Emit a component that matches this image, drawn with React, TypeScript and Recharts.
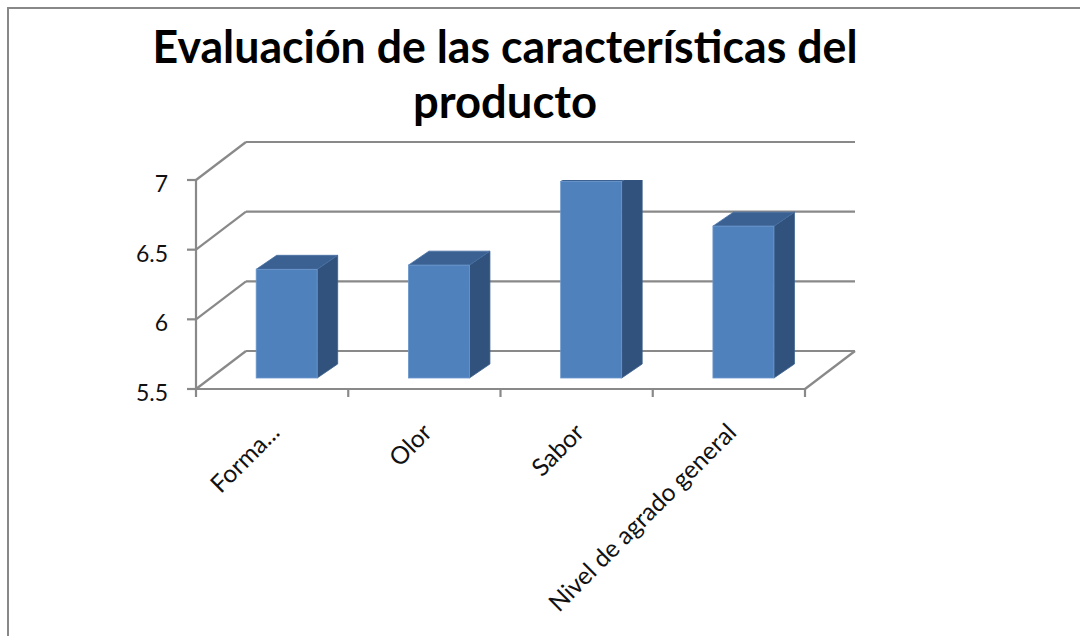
import { BarChart, Bar, XAxis, YAxis, CartesianGrid } from "recharts";

// ─── Data ──────────────────────────────────────────────────────────────────

const categories = ["Forma...", "Olor", "Sabor", "Nivel de agrado general"];
const scores = [6.28, 6.31, 6.91, 6.59];
const valueTicks = [5.5, 6, 6.5, 7];
const titleLines = ["Evaluación de las características del", "producto"];

const data = categories.map((name, i) => ({ name, score: scores[i] }));

// ─── Layout ────────────────────────────────────────────────────────────────

const W = 1080;
const H = 636;
const Y_AXIS_W = 60;
const X_AXIS_H = 30;
const MARGIN = { top: 180, right: 275, bottom: 247 - X_AXIS_H, left: 196 - Y_AXIS_W };
const PLOT_BOTTOM = H - 247;

// oblique projection of the walls / floor
const WALL_DX = 50;
const WALL_DY = 38;
// column block: front face pushed into the floor, then its own depth
const COL_DX = 14.5;
const COL_DY = 11;
const COL_DEPTH_X = 20.5;
const COL_DEPTH_Y = 14;

const GRID = "#898989";
const FONT = "Lato, 'Open Sans', sans-serif";

// ─── Grid: back wall + side wall + floor edges ─────────────────────────────

function WallLine(props: any) {
  const { x1, x2, y1 } = props;
  const isFloor = y1 >= PLOT_BOTTOM - 0.5;
  const s = { stroke: GRID, strokeWidth: 2.2, fill: "none" };
  return (
    <g>
      <line x1={x1} y1={y1} x2={x1 + WALL_DX} y2={y1 - WALL_DY} {...s} />
      <line x1={x1 + WALL_DX} y1={y1 - WALL_DY} x2={x2 + WALL_DX} y2={y1 - WALL_DY} {...s} />
      {isFloor && <line x1={x2} y1={y1} x2={x2 + WALL_DX} y2={y1 - WALL_DY} {...s} />}
    </g>
  );
}

// ─── 3D column ─────────────────────────────────────────────────────────────

function Column3D(props: any) {
  const { x, y, width: w, height: h } = props;
  if (h == null || w == null) return null;
  const fx = x + COL_DX;
  const fy = y - COL_DY;
  const top = [
    [fx, fy],
    [fx + COL_DEPTH_X, fy - COL_DEPTH_Y],
    [fx + w + COL_DEPTH_X, fy - COL_DEPTH_Y],
    [fx + w, fy],
  ];
  const side = [
    [fx + w, fy],
    [fx + w + COL_DEPTH_X, fy - COL_DEPTH_Y],
    [fx + w + COL_DEPTH_X, fy - COL_DEPTH_Y + h],
    [fx + w, fy + h],
  ];
  const pts = (p: number[][]) => p.map((q) => q.join(",")).join(" ");
  return (
    <g>
      <polygon points={pts(side)} fill="#31527c" stroke="#3a5f8c" strokeWidth={0.8} />
      <polygon points={pts(top)} fill="#3b6193" stroke="#4670a3" strokeWidth={0.8} />
      <rect x={fx} y={fy} width={w} height={h} fill="#4f81bd" stroke="#6b97cc" strokeWidth={0.8} />
    </g>
  );
}

// ─── Axis ticks ────────────────────────────────────────────────────────────

function ValueTick({ x, y, payload }: any) {
  return (
    <text x={x} y={y} dy={12} textAnchor="end" fontFamily={FONT} fontSize={23} fill="#111">
      {payload.value}
    </text>
  );
}

function CategoryTick(props: any) {
  const { x, payload, index, width, visibleTicksCount } = props;
  const half = width / visibleTicksCount / 2;
  const tick = { stroke: GRID, strokeWidth: 2.2 };
  return (
    <g>
      <line x1={x - half} y1={PLOT_BOTTOM} x2={x - half} y2={PLOT_BOTTOM + 8} {...tick} />
      {index === visibleTicksCount - 1 && (
        <line x1={x + half} y1={PLOT_BOTTOM} x2={x + half} y2={PLOT_BOTTOM + 8} {...tick} />
      )}
      <text
        transform={`translate(${x + 9},${PLOT_BOTTOM + 45}) rotate(-45)`}
        textAnchor="end"
        fontFamily={FONT}
        fontSize={24.5}
        fill="#111"
      >
        {payload.value}
      </text>
    </g>
  );
}

// ─── Main ──────────────────────────────────────────────────────────────────

export default function App() {
  return (
    <div style={{ position: "fixed", left: 0, top: 0, width: W, height: H, background: "#fff", overflow: "hidden" }}>
      <div
        style={{
          position: "absolute",
          left: 7,
          top: 7,
          width: W,
          height: H,
          borderTop: "2.5px solid #888",
          borderLeft: "2.5px solid #888",
        }}
      />
      <svg width={W} height={H} style={{ position: "absolute", left: 0, top: 0 }}>
        <text x={505} y={63} textAnchor="middle" fontFamily={FONT} fontWeight={700} fontSize={46} fill="#000"
          textLength={705} lengthAdjust="spacingAndGlyphs">
          {titleLines[0]}
        </text>
        <text x={505} y={118} textAnchor="middle" fontFamily={FONT} fontWeight={700} fontSize={46} fill="#000"
          textLength={184} lengthAdjust="spacingAndGlyphs">
          {titleLines[1]}
        </text>
      </svg>
      <div style={{ position: "absolute", left: 0, top: 0 }}>
        <BarChart width={W} height={H} data={data} margin={MARGIN} barCategoryGap="30%">
          <CartesianGrid vertical={false} horizontal={(p: any) => <WallLine {...p} />} />
          <XAxis
            dataKey="name"
            height={X_AXIS_H}
            interval={0}
            tickLine={false}
            axisLine={{ stroke: GRID, strokeWidth: 2.2 }}
            tick={<CategoryTick />}
          />
          <YAxis
            width={Y_AXIS_W}
            domain={[5.5, 7]}
            ticks={valueTicks}
            allowDataOverflow
            tickSize={9}
            tickMargin={19}
            tickLine={{ stroke: GRID, strokeWidth: 2.2 }}
            axisLine={{ stroke: GRID, strokeWidth: 2.2 }}
            tick={<ValueTick />}
          />
          <Bar dataKey="score" shape={<Column3D />} isAnimationActive={false} />
        </BarChart>
      </div>
    </div>
  );
}
